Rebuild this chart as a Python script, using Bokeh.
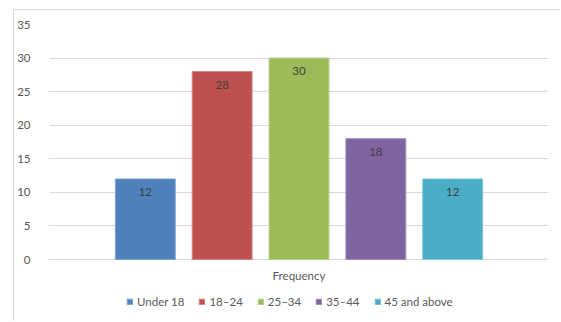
from bokeh.plotting import figure
from bokeh.models import (ColumnDataSource, FactorRange, Legend, FixedTicker)
from bokeh.transform import dodge
from bokeh.core.properties import value
from bokeh.embed import file_html
from bokeh.resources import INLINE

# Age groups and how many respondents fall in each
age_groups = ["Under 18", "18\u201324", "25\u201334", "35\u201344", "45 and above"]
counts = [12, 28, 30, 18, 12]
category = ["Frequency"]
y_ticks = [0, 5, 10, 15, 20, 25, 30, 35]
palette = ["#4F81BD", "#C0504D", "#9BBB59", "#8064A2", "#4BACC6"]
edges = ["#7FA3D0", "#D38683", "#B9CF8B", "#A08DBE", "#7FC4D6"]

FONT = "Lato"
TEXT_GREY = "#595959"
BORDER = "#D9D9D9"

# the plot frame runs down to the bottom edge so that the category label
# and the legend can live underneath the zero line
p = figure(
    width=547, height=312,
    x_range=FactorRange(*category),
    y_range=(-9.38, 35),
    output_backend="svg",
    toolbar_location=None,
    min_border_left=34, min_border_right=13,
    min_border_top=14, min_border_bottom=0,
    margin=(9, 0, 0, 13),
    styles={"border-left": f"1px solid {BORDER}",
            "border-top": f"1px solid {BORDER}"},
)
p.outline_line_color = None
p.background_fill_color = "white"
p.border_fill_color = "white"

step = 0.154
bar_w = 0.12
offsets = [(i - 2) * step for i in range(len(age_groups))]

legend_items = []
for name, n, col, edge, off in zip(age_groups, counts, palette, edges, offsets):
    src = ColumnDataSource(dict(cat=category, val=[n], lab=[str(n)]))
    r = p.vbar(x=dodge("cat", off, range=p.x_range), top="val", width=bar_w,
               source=src, fill_color=col, line_color=edge, line_width=1)
    p.text(x=dodge("cat", off, range=p.x_range), y="val", text="lab", source=src,
           text_align="center", text_baseline="middle", y_offset=13,
           text_font=value(FONT), text_font_size="11.5px", text_color="#404040")
    legend_items.append((name, [r]))

# category label under the zero line
p.text(x=category, y=[0], text=category, text_align="center",
       text_baseline="middle", y_offset=16,
       text_font=value(FONT), text_font_size="11.5px", text_color=TEXT_GREY)

# axes
p.xaxis.visible = False
p.yaxis.ticker = FixedTicker(ticks=y_ticks)
p.yaxis.axis_line_color = None
p.yaxis.major_tick_line_color = None
p.yaxis.minor_tick_line_color = None
p.yaxis.major_label_standoff = 13
p.yaxis.major_label_text_font = FONT
p.yaxis.major_label_text_font_size = "11.5px"
p.yaxis.major_label_text_color = TEXT_GREY

p.xgrid.grid_line_color = None
p.ygrid.grid_line_color = BORDER
p.ygrid.grid_line_width = 1

legend = Legend(items=legend_items, orientation="horizontal", location=(77, 14),
                glyph_width=7, glyph_height=7, label_standoff=4, spacing=14,
                padding=10, margin=0, border_line_color=None,
                background_fill_alpha=0,
                label_text_font=FONT, label_text_font_size="11.5px",
                label_text_color=TEXT_GREY, label_height=14)
p.add_layout(legend)

open("out.html", "w").write(file_html(p, INLINE))
